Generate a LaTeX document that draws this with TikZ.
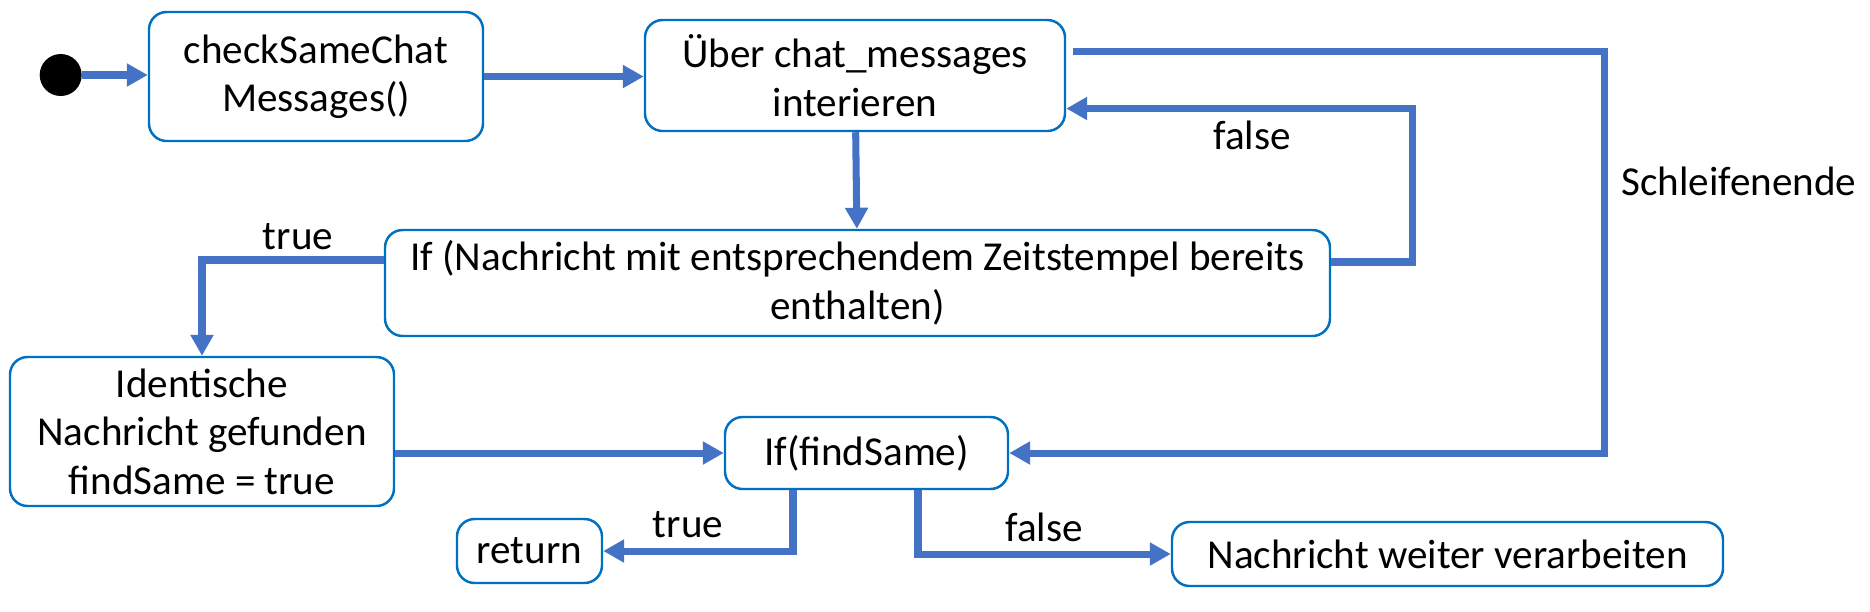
\documentclass[tikz,border=0pt]{standalone}
\usepackage{fontspec}
\setmainfont{Carlito}
\usetikzlibrary{arrows.meta,positioning}

\definecolor{boxblue}{HTML}{0070C0}
\definecolor{lineblue}{HTML}{4472C4}

\begin{document}
\begin{tikzpicture}[
    y=-1cm,
    box/.style={
        rectangle,
        rounded corners=5pt,
        draw=boxblue,
        line width=0.7pt,
        inner sep=1pt,
        align=center,
        font=\fontsize{11.7}{13.8}\selectfont
    },
    lbl/.style={
        inner sep=0pt,
        font=\fontsize{11.7}{13.8}\selectfont
    },
    arrow/.style={
        -{Triangle[length=2.1mm,width=2.2mm]},
        draw=lineblue,
        line width=2pt
    }
]

\useasboundingbox (0,0) rectangle (18.70,6.11);

% ---------------- TOP ROW ----------------

\node[circle, fill=black, minimum size=0.42cm, inner sep=0pt] (start)
    at (0.607,0.75) {};

\node[box, minimum width=3.34cm, minimum height=1.29cm] (check)
    at (3.16,0.765) {checkSameChat\\Messages()};

\node[box, minimum width=4.20cm, minimum height=1.11cm] (iterate)
    at (8.55,0.755) {Über chat\_messages\\interieren};

% ---------------- MIDDLE ----------------

\node[box, minimum width=9.45cm, minimum height=1.06cm] (ifcontains)
    at (8.575,2.83) {If (Nachricht mit entsprechendem Zeitstempel bereits\\enthalten)};

\node[box, minimum width=3.84cm, minimum height=1.49cm] (found)
    at (2.02,4.315) {Identische\\Nachricht gefunden\\findSame = true};

\node[box, minimum width=2.83cm, minimum height=0.72cm] (iffind)
    at (8.665,4.53) {If(findSame)};

% ---------------- BOTTOM ROW ----------------

\node[box, minimum width=1.45cm, minimum height=0.64cm] (ret)
    at (5.295,5.51) {return};

\node[box, minimum width=5.51cm, minimum height=0.64cm] (process)
    at (14.475,5.54) {Nachricht weiter verarbeiten};

\coordinate (loopend) at (16.045,4.53);

% labels
\node[lbl] (falseloop) at (12.52,1.35) {false};
\node[lbl] (loopdone) at (17.39,1.81) {Schleifenende};
\node[lbl] (truefound) at (2.98,2.37) {true};
\node[lbl] (trueret) at (6.88,5.25) {true};
\node[lbl] (falseproc) at (10.44,5.27) {false};

% connectors
\draw[arrow] (start) -- (start -| check.west);
\draw[arrow] (check) -- (check -| iterate.west);
\draw[arrow] (iterate) -- (ifcontains);

\draw[arrow] ([yshift=0.21cm]ifcontains.east) -- ++(0.81,0)
    |- ([yshift=-0.33cm]iterate.east);

\draw[arrow] ([xshift=2pt,yshift=0.24cm]iterate.east) -| (loopend)
    -- (iffind.east);

\draw[arrow] ([yshift=0.23cm]ifcontains.west) -| (found.north);

\draw[arrow] (found.east |- iffind) -- (iffind.west);

\draw[arrow] ([xshift=-0.735cm]iffind.south) |- (ret.east);
\draw[arrow] ([xshift=0.515cm]iffind.south) |- (process.west);

\end{tikzpicture}
\end{document}
